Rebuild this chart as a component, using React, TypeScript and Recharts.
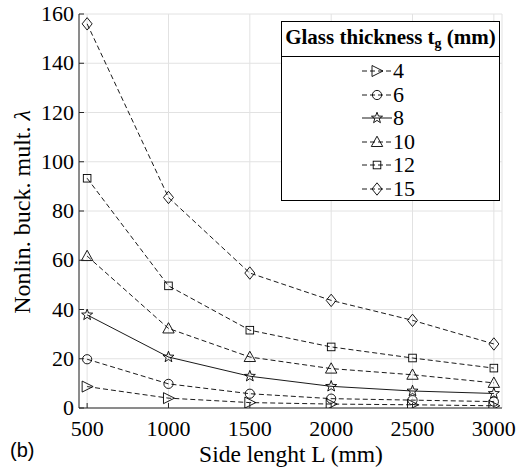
import React from 'react';
import { LineChart, Line, XAxis, YAxis, CartesianGrid, Legend, Label } from 'recharts';

const sideLengths = [500, 1000, 1500, 2000, 2500, 3000];
const t4 = [8.7, 4.0, 2.2, 1.6, 1.3, 0.9];
const t6 = [19.8, 9.8, 5.8, 3.8, 3.2, 2.6];
const t8 = [37.8, 20.7, 12.9, 8.8, 6.9, 5.9];
const t10 = [61.7, 32.3, 20.7, 16.0, 13.5, 10.2];
const t12 = [93.3, 49.6, 31.6, 24.8, 20.3, 16.2];
const t15 = [156, 85.5, 54.8, 43.7, 35.6, 26.0];

const xTicks = [500, 1000, 1500, 2000, 2500, 3000];
const yTicks = [0, 20, 40, 60, 80, 100, 120, 140, 160];
const seriesNames = ['4', '6', '8', '10', '12', '15'];
const seriesShapes = ['triRight', 'circle', 'star', 'triUp', 'square', 'diamond'];
const seriesDashed = [true, true, false, true, true, true];
const seriesValues = [t4, t6, t8, t10, t12, t15];

const data = sideLengths.map((L, i) => {
  const row: any = { L };
  seriesNames.forEach((n, s) => {
    row['t' + n] = seriesValues[s][i];
  });
  return row;
});

const SERIF = 'Liberation Serif';
const SANS = 'Liberation Sans';
const AXIS = '#262626';
const serifStyle = { fontFamily: SERIF };

function Marker({ shape, cx, cy }: any) {
  const s = { fill: 'none', stroke: '#000', strokeWidth: 0.9 };
  switch (shape) {
    case 'triRight':
      return <polygon points={`${cx - 5},${cy - 5.5} ${cx + 6},${cy} ${cx - 5},${cy + 5.5}`} {...s} />;
    case 'circle':
      return <circle cx={cx} cy={cy} r={4.6} {...s} />;
    case 'star': {
      const pts: string[] = [];
      for (let k = 0; k < 10; k++) {
        const r = k % 2 === 0 ? 5.8 : 2.4;
        const a = -Math.PI / 2 + (k * Math.PI) / 5;
        pts.push(`${cx + r * Math.cos(a)},${cy + r * Math.sin(a)}`);
      }
      return <polygon points={pts.join(' ')} {...s} />;
    }
    case 'triUp':
      return <polygon points={`${cx - 5.7},${cy + 4.5} ${cx},${cy - 5.8} ${cx + 5.7},${cy + 4.5}`} {...s} />;
    case 'square':
      return <rect x={cx - 3.8} y={cy - 3.8} width={7.6} height={7.6} {...s} />;
    case 'diamond':
      return <polygon points={`${cx},${cy - 6.2} ${cx + 5},${cy} ${cx},${cy + 6.2} ${cx - 5},${cy}`} {...s} />;
    default:
      return null;
  }
}

const XTickBottom = (p: any) => (
  <g>
    <line x1={p.x} y1={p.y} x2={p.x} y2={p.y - 5} stroke={AXIS} strokeWidth={1} />
    <text x={p.x} y={p.y + 28} textAnchor="middle" style={serifStyle} fontSize={22} fill="#000">
      {p.payload.value}
    </text>
  </g>
);
const XTickTop = (p: any) => (
  <line x1={p.x} y1={p.y} x2={p.x} y2={p.y + 5} stroke={AXIS} strokeWidth={1} />
);
const YTickLeft = (p: any) => (
  <g>
    <line x1={p.x} y1={p.y} x2={p.x + 5} y2={p.y} stroke={AXIS} strokeWidth={1} />
    <text x={p.x - 5} y={p.y + 7} textAnchor="end" style={serifStyle} fontSize={22} fill="#000">
      {p.payload.value}
    </text>
  </g>
);
const YTickRight = (p: any) => (
  <line x1={p.x} y1={p.y} x2={p.x - 5} y2={p.y} stroke={AXIS} strokeWidth={1} />
);

const Labels = () => (
  <g>
    <text x={291} y={461.5} textAnchor="middle" style={serifStyle} fontSize={23.5} fill="#000">
      Side lenght L (mm)
    </text>
    <text x={10} y={457} style={{ fontFamily: SANS }} fontSize={20} fill="#000">(b)</text>
    <text
      transform="translate(30,212) rotate(-90)"
      textAnchor="middle"
      style={serifStyle}
      fontSize={24}
      fill="#000"
    >
      <tspan>Nonlin. buck. mult. </tspan>
      <tspan fontStyle="italic">λ</tspan>
    </text>
  </g>
);

const LegendBox = () => (
  <div
    style={{
      width: 219,
      height: 180,
      boxSizing: 'border-box',
      border: '1px solid #000',
      background: '#fff',
      fontFamily: SERIF,
      color: '#000',
    }}
  >
    <div
      style={{
        height: 35,
        borderBottom: '1px solid #000',
        boxSizing: 'border-box',
        fontWeight: 'bold',
        fontSize: 21,
        textAlign: 'center',
        lineHeight: '30px',
        whiteSpace: 'nowrap',
      }}
    >
      Glass thickness t<sub style={{ fontSize: 14, verticalAlign: -4, lineHeight: 0 }}>g</sub> (mm)
    </div>
    <div style={{ paddingTop: 2 }}>
      {seriesNames.map((n, i) => (
        <div key={n} style={{ position: 'relative', height: 23.5 }}>
          <svg width={30} height={20} style={{ position: 'absolute', left: 80, top: 2 }}>
            <line
              x1={0}
              y1={10}
              x2={30}
              y2={10}
              stroke="#000"
              strokeWidth={0.9}
              strokeDasharray={seriesDashed[i] ? '5 3' : undefined}
            />
            <Marker shape={seriesShapes[i]} cx={15} cy={10} />
          </svg>
          <span style={{ position: 'absolute', left: 111, top: 0, fontSize: 22, lineHeight: '23.5px' }}>{n}</span>
        </div>
      ))}
    </div>
  </div>
);

export default function App() {
  return (
    <div style={{ position: 'absolute', left: 0, top: 0, width: 517, height: 473, background: '#fff' }}>
      <LineChart width={517} height={473} data={data} margin={{ top: 14, right: 15, bottom: 0, left: 0 }}>
        <CartesianGrid stroke="#e2e2e2" strokeWidth={1} />
        <XAxis
          xAxisId={0}
          dataKey="L"
          type="number"
          domain={[450, 3050]}
          ticks={xTicks}
          allowDataOverflow
          height={65}
          tickSize={0}
          tickMargin={0}
          tickLine={false}
          axisLine={{ stroke: AXIS, strokeWidth: 1 }}
          tick={XTickBottom}
          interval={0}
        >
          <Label content={Labels} />
        </XAxis>
        <XAxis
          xAxisId="top"
          orientation="top"
          dataKey="L"
          type="number"
          domain={[450, 3050]}
          ticks={xTicks}
          allowDataOverflow
          height={0}
          tickSize={0}
          tickMargin={0}
          tickLine={false}
          axisLine={{ stroke: AXIS, strokeWidth: 1 }}
          tick={XTickTop}
          interval={0}
        />
        <YAxis
          yAxisId={0}
          type="number"
          domain={[0, 160]}
          ticks={yTicks}
          allowDataOverflow
          width={79}
          tickSize={0}
          tickMargin={0}
          tickLine={false}
          axisLine={{ stroke: AXIS, strokeWidth: 1 }}
          tick={YTickLeft}
          interval={0}
        />
        <YAxis
          yAxisId="right"
          orientation="right"
          type="number"
          domain={[0, 160]}
          ticks={yTicks}
          allowDataOverflow
          width={0}
          tickSize={0}
          tickMargin={0}
          tickLine={false}
          axisLine={{ stroke: AXIS, strokeWidth: 1 }}
          tick={YTickRight}
          interval={0}
        />
        {seriesNames.map((n, i) => (
          <Line
            key={n}
            xAxisId={0}
            yAxisId={0}
            type="linear"
            dataKey={'t' + n}
            name={n}
            stroke="#000"
            strokeWidth={0.9}
            strokeDasharray={seriesDashed[i] ? '5 3' : undefined}
            isAnimationActive={false}
            dot={(p: any) => <Marker key={`${n}-${p.index}`} shape={seriesShapes[i]} cx={p.cx} cy={p.cy} />}
            activeDot={false}
          />
        ))}
        <Legend
          layout="vertical"
          align="center"
          verticalAlign="middle"
          content={LegendBox}
          wrapperStyle={{ position: 'absolute', left: 281, top: 21, width: 219, height: 180 }}
        />
      </LineChart>
    </div>
  );
}
